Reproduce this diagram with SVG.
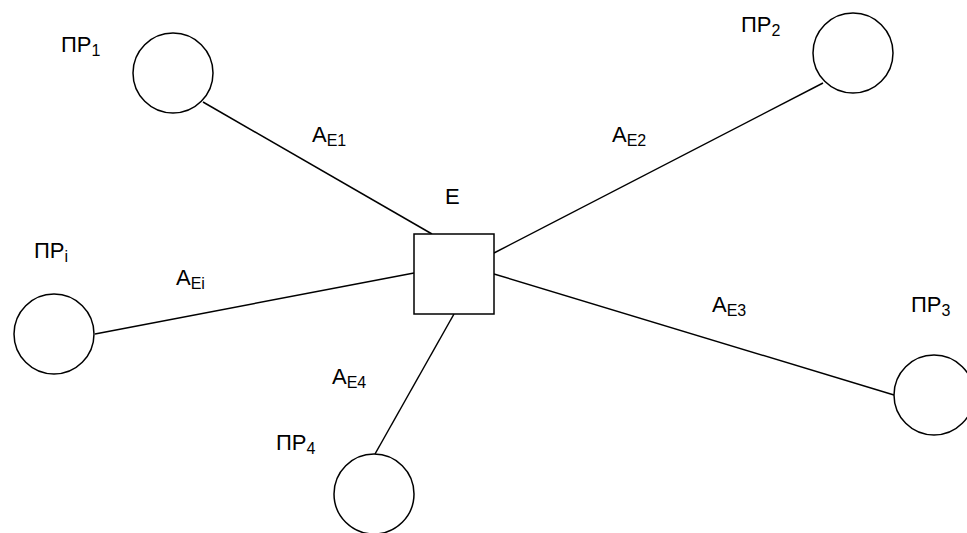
<svg xmlns="http://www.w3.org/2000/svg" width="967" height="533" viewBox="0 0 967 533">
<style>
.n{fill:#fff;stroke:#000;stroke-width:1.5}
.c{stroke:#000;stroke-width:1.5;fill:none}
text{font-family:"Liberation Sans",Arial,sans-serif;font-size:22px;fill:#000}
.s{font-size:16px}
</style>
<rect width="967" height="533" fill="#fff"/>
<g id="connectors">
<line class="c" x1="203" y1="102" x2="432" y2="234"/>
<line class="c" x1="823" y1="83" x2="494" y2="253"/>
<line class="c" x1="95" y1="334" x2="414" y2="273"/>
<line class="c" x1="494" y1="274" x2="894" y2="395"/>
<line class="c" x1="454" y1="314" x2="375" y2="454"/>
<text x="312" y="142">A<tspan class="s" dy="4">E1</tspan></text>
<text x="612" y="142">A<tspan class="s" dy="4">E2</tspan></text>
<text x="176" y="285">A<tspan class="s" dy="4">Ei</tspan></text>
<text x="712" y="312">A<tspan class="s" dy="4">E3</tspan></text>
<text x="332" y="384">A<tspan class="s" dy="4">E4</tspan></text>
</g>
<g id="E">
<rect class="n" x="414" y="234" width="80" height="80"/>
<text x="445" y="204">E</text>
</g>
<g id="PR1">
<circle class="n" cx="173" cy="73" r="40"/>
<text x="61" y="52">ПР<tspan class="s" dy="4">1</tspan></text>
</g>
<g id="PR2">
<circle class="n" cx="853" cy="53" r="40"/>
<text x="741" y="32">ПР<tspan class="s" dy="4">2</tspan></text>
</g>
<g id="PRi">
<circle class="n" cx="54" cy="334" r="40"/>
<text x="34" y="258">ПР<tspan class="s" dy="4">i</tspan></text>
</g>
<g id="PR3">
<circle class="n" cx="934" cy="395" r="40"/>
<text x="911" y="312">ПР<tspan class="s" dy="4">3</tspan></text>
</g>
<g id="PR4">
<circle class="n" cx="374" cy="494" r="40"/>
<text x="276" y="450">ПР<tspan class="s" dy="4">4</tspan></text>
</g>
</svg>
